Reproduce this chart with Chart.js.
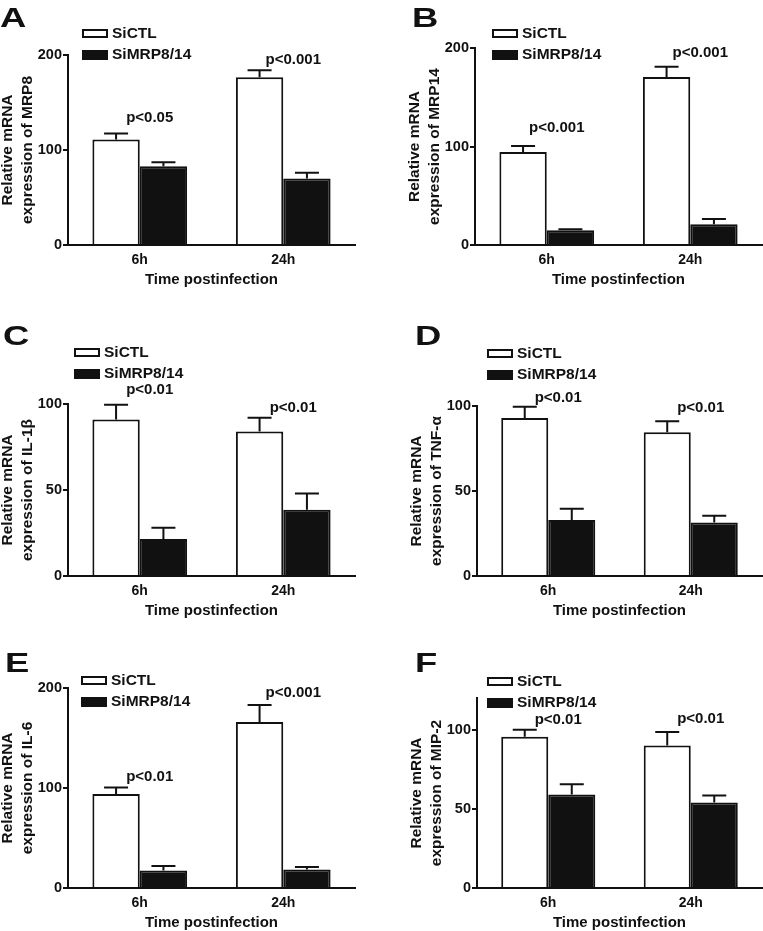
<!DOCTYPE html>
<html>
<head>
<meta charset="utf-8">
<script src="https://cdn.jsdelivr.net/npm/chart.js@4.4.1/dist/chart.umd.min.js"></script>
<style>
  html, body { margin: 0; padding: 0; background: #fff; overflow: hidden; }
  #page { position: relative; width: 763px; height: 931px; }
  #page canvas { position: absolute; }
</style>
</head>
<body>
<div id="page"></div>
<script>
// categories / series
const timePoints = ['6h', '24h'];
const seriesNames = ['SiCTL', 'SiMRP8/14'];
const panelLetters = ['A', 'B', 'C', 'D', 'E', 'F'];
const genes = ['MRP8', 'MRP14', 'IL-1β', 'TNF-α', 'IL-6', 'MIP-2'];

// mean and upper error, [6h, 24h] for each panel
const ctlMean = [[111, 176.5], [94.5, 170.5], [91, 84], [93, 84.5], [94, 166], [95.5, 90]];
const ctlErr  = [[6.5, 7.5], [6, 10.5], [8.5, 8], [6.5, 6.5], [6.5, 17], [4.5, 8.5]];
const mrpMean = [[83, 70], [15, 21], [21.5, 38.5], [33, 31.5], [17.5, 18.5], [59, 54]];
const mrpErr  = [[4, 6], [1, 5.5], [6.5, 9.5], [6.5, 4], [4.5, 2.5], [6.5, 4.5]];

// p values and the height (axis units) they are written at
const pLabels = [['p<0.05', 'p<0.001'], ['p<0.001', 'p<0.001'], ['p<0.01', 'p<0.01'],
                 ['p<0.01', 'p<0.01'], ['p<0.01', 'p<0.001'], ['p<0.01', 'p<0.01']];
const pLevels = [[134, 195], [119, 195], [108, 98], [105, 99], [111, 195], [106, 107]];

// y axis ticks
const yMax  = [200, 200, 100, 100, 200, 120];
const yStep = [100, 100, 50, 50, 100, 50];

// page layout (pixels)
const areas = [
  { left: 68,  top: 55,  right: 355, bottom: 245 },
  { left: 475, top: 48,  right: 762, bottom: 245 },
  { left: 68,  top: 404, right: 355, bottom: 576 },
  { left: 477, top: 406, right: 762, bottom: 576 },
  { left: 68,  top: 688, right: 355, bottom: 888 },
  { left: 477, top: 698, right: 762, bottom: 888 }
];
const legendPos = [[82, 29], [492, 29], [74, 348], [487, 349], [81, 676], [487, 677]];
const letterPos = [[0, 27], [412, 27], [3, 345], [415, 345], [5, 672], [415, 672]];
const TOP_ROOM = 100;

const FONT = '"Liberation Sans", Arial, Helvetica, sans-serif';
const INK = '#111';

// error bars, panel letter, legend, p values
const decorations = {
  id: 'decorations',
  afterDatasetsDraw(chart) {
    const ctx = chart.ctx;
    const yScale = chart.scales.y;
    ctx.save();
    ctx.strokeStyle = INK;
    ctx.lineWidth = 2;
    chart.data.datasets.forEach((ds, di) => {
      chart.getDatasetMeta(di).data.forEach((bar, i) => {
        const top = yScale.getPixelForValue(ds.data[i] + ds.errors[i]);
        ctx.beginPath();
        ctx.moveTo(bar.x, bar.y);
        ctx.lineTo(bar.x, top);
        ctx.moveTo(bar.x - 12, top);
        ctx.lineTo(bar.x + 12, top);
        ctx.stroke();
      });
    });
    ctx.restore();
  },
  afterDraw(chart, args, opts) {
    const ctx = chart.ctx;
    const ox = opts.offsetX, oy = opts.offsetY;
    const p = opts.panel;
    ctx.save();
    ctx.fillStyle = INK;
    ctx.strokeStyle = INK;

    // panel letter
    ctx.save();
    ctx.translate(letterPos[p][0] - ox, letterPos[p][1] - oy);
    ctx.scale(1.3, 1);
    ctx.font = 'bold 28px ' + FONT;
    ctx.textAlign = 'left';
    ctx.textBaseline = 'alphabetic';
    ctx.fillText(panelLetters[p], 0, 0);
    ctx.restore();

    // legend
    const lx = legendPos[p][0] - ox, ly = legendPos[p][1] - oy;
    ctx.font = 'bold 15.5px ' + FONT;
    ctx.textBaseline = 'middle';
    ctx.textAlign = 'left';
    ctx.lineWidth = 2;
    ctx.fillStyle = '#fff';
    ctx.fillRect(lx, ly, 26, 9);
    ctx.strokeRect(lx + 1, ly + 1, 24, 7);
    ctx.fillStyle = INK;
    ctx.fillRect(lx, ly + 21, 26, 10);
    ctx.fillText(seriesNames[0], lx + 30, ly + 5);
    ctx.fillText(seriesNames[1], lx + 30, ly + 26);

    // p values
    ctx.font = 'bold 15px ' + FONT;
    ctx.textAlign = 'center';
    pLabels[p].forEach((txt, i) => {
      const x = chart.scales.x.getPixelForValue(i) + 10;
      const y = chart.scales.y.getPixelForValue(pLevels[p][i]);
      ctx.fillText(txt, x, y);
    });
    ctx.restore();
  }
};

const page = document.getElementById('page');

areas.forEach((a, p) => {
  const ox = a.left - 70;
  const oy = a.top - TOP_ROOM;
  const canvas = document.createElement('canvas');
  canvas.width = a.right + 4 - ox;
  canvas.height = a.bottom + 44 - oy;
  canvas.style.left = ox + 'px';
  canvas.style.top = oy + 'px';
  page.appendChild(canvas);

  new Chart(canvas.getContext('2d'), {
    type: 'bar',
    data: {
      labels: timePoints,
      datasets: [{
        label: seriesNames[0],
        data: ctlMean[p],
        errors: ctlErr[p],
        backgroundColor: '#fff',
        borderColor: INK,
        borderWidth: 2
      }, {
        label: seriesNames[1],
        data: mrpMean[p],
        errors: mrpErr[p],
        backgroundColor: INK,
        borderColor: INK,
        borderWidth: 2
      }]
    },
    options: {
      responsive: false,
      animation: false,
      barPercentage: 1,
      categoryPercentage: 0.66,
      layout: { padding: { left: 0, top: TOP_ROOM, right: 4, bottom: 0 } },
      plugins: {
        legend: { display: false },
        tooltip: { enabled: false },
        decorations: { panel: p, offsetX: ox, offsetY: oy }
      },
      scales: {
        x: {
          grid: { display: false, drawTicks: false },
          border: { display: true, color: INK, width: 2 },
          ticks: { color: INK, padding: 7, font: { family: FONT, size: 14, weight: 'bold' } },
          title: {
            display: true,
            text: 'Time postinfection',
            color: INK,
            padding: 0,
            font: { family: FONT, size: 15, weight: 'bold' }
          },
          afterFit: s => { s.height = 44; }
        },
        y: {
          min: 0,
          max: yMax[p],
          ticks: {
            stepSize: yStep[p],
            includeBounds: false,
            color: INK,
            padding: 1,
            font: { family: FONT, size: 14.5, weight: 'bold' }
          },
          grid: { drawOnChartArea: false, drawTicks: true, tickLength: 5, color: INK, lineWidth: 2 },
          border: { display: true, color: INK, width: 2 },
          title: {
            display: true,
            text: ['Relative mRNA', 'expression of ' + genes[p]],
            color: INK,
            padding: 0,
            font: { family: FONT, size: 15.5, weight: 'bold', lineHeight: '20px' }
          },
          afterFit: s => { s.width = 70; }
        }
      }
    },
    plugins: [decorations]
  });
});
</script>
</body>
</html>
